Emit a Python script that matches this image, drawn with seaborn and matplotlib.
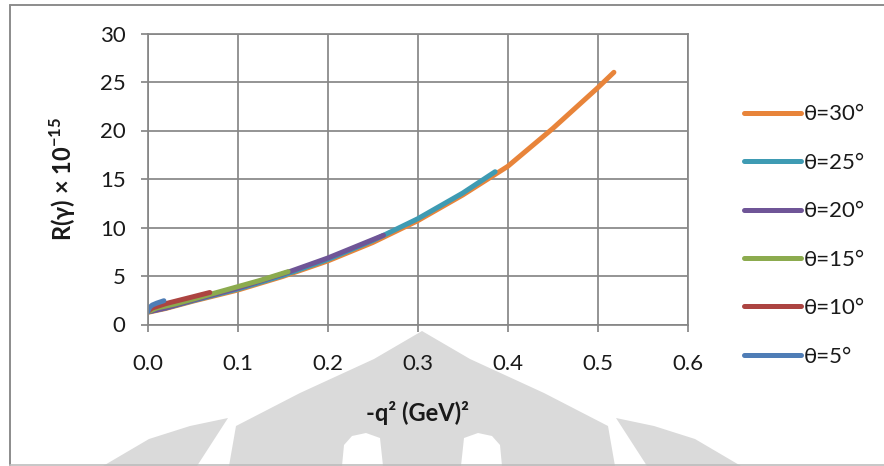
import numpy as np
import pandas as pd
import matplotlib
matplotlib.use("Agg")
import matplotlib.pyplot as plt
import seaborn as sns
from matplotlib.patches import Polygon
from matplotlib.lines import Line2D

# ---------------- data ----------------
labels = ["θ=30°", "θ=25°", "θ=20°", "θ=15°", "θ=10°", "θ=5°"]
colors = ["#E8843A", "#3E9BB3", "#6F5597", "#8CAB4E", "#AC4441", "#4F7DB6"]

x30 = [0.0, 0.02, 0.05, 0.10, 0.15, 0.20, 0.25, 0.30, 0.35, 0.40, 0.45, 0.50, 0.518]
y30 = [1.25, 1.65, 2.40, 3.55, 4.95, 6.55, 8.45, 10.7, 13.35, 16.3, 20.2, 24.4, 26.0]

x25 = [0.0, 0.02, 0.05, 0.10, 0.15, 0.20, 0.25, 0.30, 0.35, 0.386]
y25 = [1.3, 1.70, 2.45, 3.65, 5.05, 6.70, 8.65, 10.9, 13.55, 15.75]

x20 = [0.0, 0.02, 0.05, 0.10, 0.15, 0.20, 0.262]
y20 = [1.3, 1.70, 2.50, 3.75, 5.20, 6.85, 9.2]

x15 = [0.0, 0.01, 0.03, 0.05, 0.075, 0.10, 0.125, 0.156]
y15 = [1.3, 1.70, 2.10, 2.60, 3.25, 3.90, 4.55, 5.45]

x10 = [0.0, 0.005, 0.01, 0.02, 0.035, 0.05, 0.069]
y10 = [1.35, 1.70, 1.85, 2.15, 2.50, 2.85, 3.30]

x5 = [0.0, 0.002, 0.005, 0.01, 0.018]
y5 = [1.30, 1.75, 2.00, 2.20, 2.45]

xs = [x30, x25, x20, x15, x10, x5]
ys = [y30, y25, y20, y15, y10, y5]

xticks = [0.0, 0.1, 0.2, 0.3, 0.4, 0.5, 0.6]
xticklabels = ["0.0", "0.1", "0.2", "0.3", "0.4", "0.5", "0.6"]
yticks = [0, 5, 10, 15, 20, 25, 30]

# ---------------- style ----------------
sns.set_theme(style="white")
plt.rcParams["font.family"] = ["Lato", "DejaVu Sans"]
plt.rcParams["mathtext.fontset"] = "custom"
plt.rcParams["mathtext.rm"] = "Lato"
plt.rcParams["mathtext.bf"] = "Lato:bold"

W, H = 884, 466
fig = plt.figure(figsize=(W / 100, H / 100), dpi=100)
fig.patch.set_facecolor("white")


def fx(px):
    return px / W


def fy(py):
    return 1 - py / H


# faint background watermark (decorative, in pixel coordinates of the picture)
wm = "#DADADA"
shapes = [
    [(422, 331), (374, 359), (300, 393), (236, 426), (229, 466),
     (615, 466), (608, 426), (544, 393), (470, 359)],
    [(103, 466), (149, 439), (190, 426), (228, 418), (197, 466)],
    [(741, 466), (695, 439), (654, 426), (616, 418), (647, 466)],
]
for pts in shapes:
    fig.add_artist(Polygon([(fx(a), fy(b)) for a, b in pts], closed=True,
                           transform=fig.transFigure, facecolor=wm,
                           edgecolor="none", zorder=-5))
holes = [
    [(342, 466), (344, 445), (352, 436), (366, 433), (380, 438), (383, 466)],
    [(461, 466), (464, 438), (478, 433), (492, 436), (500, 445), (502, 466)],
]
for pts in holes:
    fig.add_artist(Polygon([(fx(a), fy(b)) for a, b in pts], closed=True,
                           transform=fig.transFigure, facecolor="white",
                           edgecolor="none", zorder=-4))

# chart-area border (left, top, bottom)
bc = "#8C8C8C"
fig.add_artist(Line2D([fx(10), fx(10)], [fy(5), fy(465)], transform=fig.transFigure,
                      color=bc, linewidth=1.4, zorder=-3))
fig.add_artist(Line2D([fx(10), 1.0], [fy(5), fy(5)], transform=fig.transFigure,
                      color=bc, linewidth=1.4, zorder=-3))
fig.add_artist(Line2D([fx(10), 1.0], [fy(465), fy(465)], transform=fig.transFigure,
                      color="#BDBDBD", linewidth=1.2, zorder=-3))

left, right = 147.7 / W, 687.7 / W
bottom, top = 1 - 324.5 / H, 1 - 33.5 / H
ax = fig.add_axes([left, bottom, right - left, top - bottom])
ax.set_facecolor("white")

frames = []
for lab, x, y in zip(labels, xs, ys):
    frames.append(pd.DataFrame({"x": x, "y": y, "series": lab}))
df = pd.concat(frames, ignore_index=True)

for lab, col in zip(labels, colors):
    sub = df[df["series"] == lab]
    sns.lineplot(data=sub, x="x", y="y", ax=ax, color=col, linewidth=3.6,
                 sort=False, label=lab, estimator=None,
                 solid_capstyle="round", solid_joinstyle="round")

ax.set_xlim(0, 0.6)
ax.set_ylim(0, 30)
ax.set_xticks(xticks)
ax.set_xticklabels(xticklabels)
ax.set_yticks(yticks)

grid_c = "#878787"
ax.grid(True, color=grid_c, linewidth=1.25)
ax.set_axisbelow(True)
for s in ax.spines.values():
    s.set_color(grid_c)
    s.set_linewidth(1.25)
ax.tick_params(axis="both", which="both", direction="out", length=5,
               width=1.25, color=grid_c, labelsize=16, labelcolor="#1a1a1a")
ax.tick_params(axis="x", pad=16)
ax.tick_params(axis="y", pad=11)
ax.tick_params(bottom=True, left=True)

ax.set_xlabel("-q² (GeV)²", fontsize=17, fontweight="bold", color="#1a1a1a", labelpad=20)
ax.set_ylabel(r"R(γ) × 10$^{\mathbf{-15}}$", fontsize=17, fontweight="bold",
              color="#1a1a1a", labelpad=16)

ax.get_legend().remove()
handles, labs = ax.get_legend_handles_labels()
leg = fig.legend(handles, labs, loc="center left",
                 bbox_to_anchor=(744 / W, 1 - 235.5 / H),
                 frameon=False, fontsize=16, handlelength=2.55,
                 handletextpad=0.15, labelspacing=1.28,
                 borderpad=0, borderaxespad=0)
for t in leg.get_texts():
    t.set_color("#1a1a1a")
for h in leg.get_lines():
    h.set_linewidth(3.6)
    h.set_solid_capstyle("round")

fig.savefig("out.png", dpi=100, facecolor="white")
